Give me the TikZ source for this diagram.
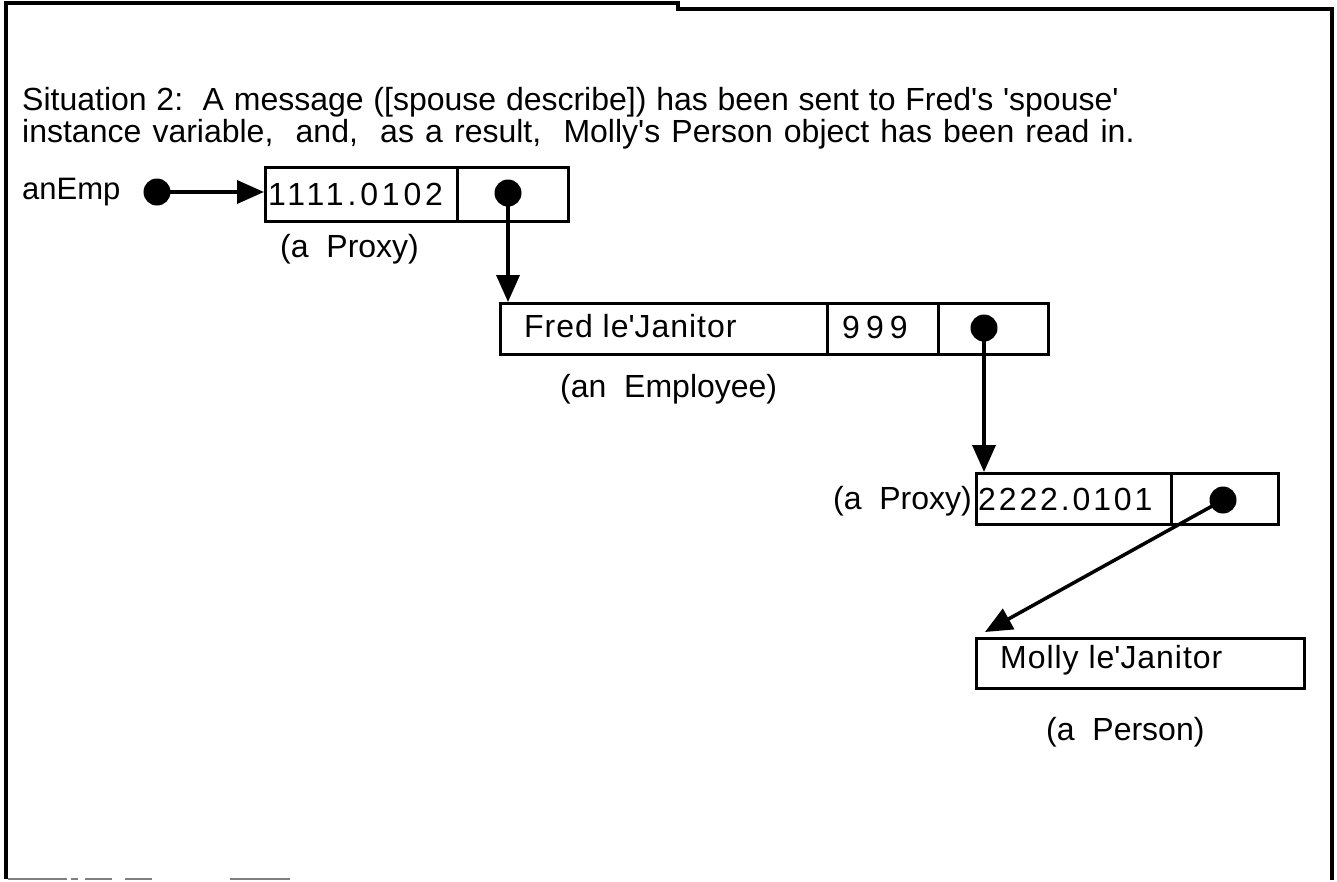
\documentclass[tikz,border=0pt]{standalone}
\usepackage{fontspec}
\setmainfont{Liberation Sans}
\usetikzlibrary{arrows.meta}
\newcommand{\sq}{\textquotesingle}
\begin{document}
\begin{tikzpicture}[x=1pt,y=-1pt,
  cell/.style={draw, line width=3pt, anchor=north west, inner sep=0pt},
  ptr/.style={line width=3.5pt, -{Triangle[length=27pt,width=23pt]}},
  blob/.style={circle, fill, inner sep=0pt, minimum size=27pt},
  hdr/.style={font={\fontsize{32}{38}\selectfont\frenchspacing\spaceskip=#1em plus 0.1em minus 0.05em\relax}, inner sep=0pt, anchor=base west},
  hdr/.default=0.306,
  lbl/.style={font=\fontsize{32}{38}\selectfont, inner sep=0pt, anchor=base west},
  celltext/.style={font=\fontsize{32}{38}\selectfont\addfontfeature{LetterSpace=3}, inner sep=0pt, anchor=base west},
  numtext/.style={font=\fontsize{32}{38}\selectfont\addfontfeature{LetterSpace=#1}, inner sep=0pt, anchor=base west},
  numtext/.default=12,
]
\useasboundingbox (0,0) rectangle (1337,881);

% outer frame
\draw[line width=4pt] (6,879) -- (6,3) -- (678,3) -- (678,9) -- (1332,9) -- (1332,880);
\draw[line width=2pt, gray] (8,879) -- (67,879) (71,879) -- (78,879) (85,879) -- (112,879)
  (125,879) -- (152,879) (230,879) -- (290,879);

% caption
\node[hdr] (cap1) at (22,110) {Situation 2:\space\space A message ([spouse describe]) has been sent to Fred\sq s \sq spouse\sq};
\node[hdr=0.348] (cap2) at (22,142) {instance variable,\space\space and,\space\space as a result,\space\space Molly\sq s Person object has been read in.};

% anEmp variable
\node[lbl, font=\fontsize{31}{36}\selectfont] (anemp) at (22,199) {anEmp};
\node[blob] (d0) at (157,192) {};

% first proxy
\node[cell, minimum width=192pt, minimum height=54pt] (p1a) at (264,166) {};
\node[cell, minimum width=111pt, minimum height=54pt] (p1b) at (456,166) {};
\node[numtext] (p1t) at (268,205) {1111.0102};
\node[blob] (d1) at (508,193) {};
\node[lbl] (p1l) at (280,257) {(a\ \ Proxy)};

% employee
\node[cell, minimum width=327pt, minimum height=51pt] (e1) at (499,302) {};
\node[cell, minimum width=111pt, minimum height=51pt] (e2) at (826,302) {};
\node[cell, minimum width=110pt, minimum height=51pt] (e3) at (937,302) {};
\node[celltext] (e1t) at (524,337) {Fred le\sq Janitor};
\node[numtext=19] (e2t) at (842,338) {999};
\node[blob] (d2) at (984,328) {};
\node[lbl] (el) at (560,397) {(an\ \ Employee)};

% second proxy
\node[cell, minimum width=195pt, minimum height=51pt] (p2a) at (975,472) {};
\node[cell, minimum width=107pt, minimum height=51pt] (p2b) at (1170,472) {};
\node[numtext=9] (p2t) at (978,510) {2222.0101};
\node[blob] (d3) at (1223,500) {};
\node[lbl, anchor=base east] (p2l) at (972,509) {(a\ \ Proxy)};

% person
\node[cell, minimum width=328pt, minimum height=50pt] (m1) at (975,637) {};
\node[celltext] (m1t) at (1000,668) {Molly le\sq Janitor};
\node[lbl] (ml) at (1046,740) {(a\ \ Person)};

% pointers
\coordinate (t4) at (985,632);
\draw[ptr] (d0.center) -- (p1a.west |- d0.center);
\draw[ptr] (d1.center) -- (d1.center |- e1.north);
\draw[ptr] (d2.center) -- (d2.center |- p2a.north);
\draw[ptr] (d3.center) -- (t4);
\end{tikzpicture}
\end{document}
